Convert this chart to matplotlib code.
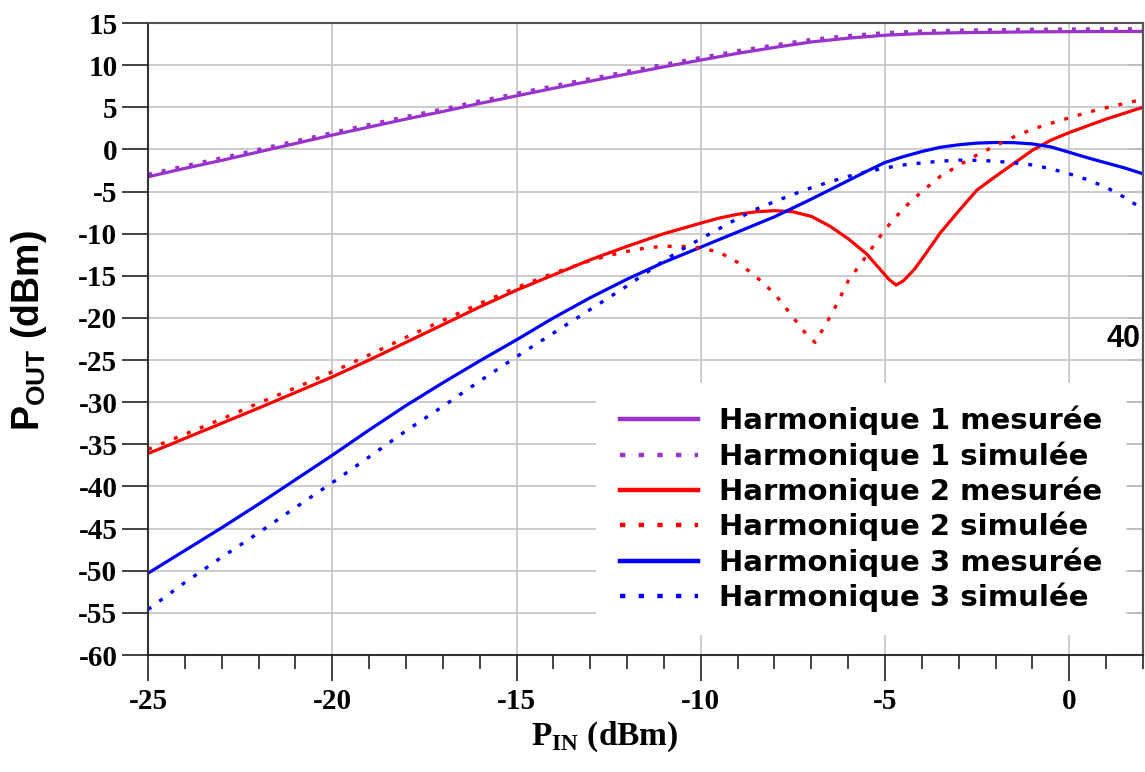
"""Harmoniques 1-3 : puissance de sortie mesuree / simulee en fonction de P_IN."""

import matplotlib

matplotlib.use("Agg")
import matplotlib.pyplot as plt
import numpy as np

# --- data ------------------------------------------------------------------
h1_x = [-25, -24, -23, -22, -21, -20, -19, -18, -17, -16, -15, -14, -13, -12,
        -11, -10, -9, -8, -7, -6, -5, -4, -3, -2, -1, 0, 1, 2]
h1_mes = [-3.25, -2.25, -1.3, -0.3, 0.7, 1.7, 2.65, 3.6, 4.5, 5.45, 6.35, 7.25,
          8.1, 8.95, 9.8, 10.6, 11.4, 12.1, 12.75, 13.2, 13.55, 13.75, 13.85,
          13.9, 13.95, 13.97, 13.99, 14.0]
h1_sim = [-2.95, -1.95, -1.0, 0.0, 1.0, 2.0, 2.95, 3.9, 4.8, 5.75, 6.65, 7.55,
          8.4, 9.25, 10.1, 10.9, 11.7, 12.4, 13.05, 13.5, 13.85, 14.05, 14.15,
          14.2, 14.25, 14.28, 14.3, 14.32]

h2_mes_x = [-25, -24, -23, -22, -21, -20, -19, -18, -17, -16, -15, -14, -13,
            -12, -11, -10, -9.5, -9, -8.5, -8, -7.5, -7, -6.5, -6, -5.5, -5.2,
            -4.9, -4.7, -4.5, -4.2, -3.9, -3.5, -3, -2.5, -2, -1.5, -1, -0.5,
            0, 0.5, 1, 1.5, 2]
h2_mes = [-36.1, -34.3, -32.5, -30.7, -28.85, -27.0, -25.0, -22.9, -20.8,
          -18.7, -16.7, -14.9, -13.1, -11.5, -10.0, -8.75, -8.15, -7.7, -7.4,
          -7.27, -7.4, -7.95, -9.1, -10.6, -12.4, -13.9, -15.4, -16.1, -15.6,
          -14.2, -12.4, -9.9, -7.3, -4.8, -3.2, -1.65, -0.1, 1.1, 2.0, 2.8,
          3.6, 4.3, 5.0]

h2_sim_x = [-25, -24, -23, -22, -21, -20, -19, -18, -17, -16, -15, -14, -13,
            -12.5, -12, -11.5, -11, -10.5, -10, -9.5, -9, -8.5, -8, -7.5,
            -7.2, -6.9, -6.6, -6.3, -6, -5.5, -5, -4.5, -4, -3.5, -3, -2.5,
            -2, -1.5, -1, -0.5, 0, 0.5, 1, 1.5, 2]
h2_sim = [-35.6, -33.8, -32.0, -30.1, -28.3, -26.4, -24.4, -22.3, -20.3,
          -18.3, -16.4, -14.7, -13.2, -12.6, -12.1, -11.7, -11.5, -11.5,
          -11.7, -12.2, -13.4, -15.1, -17.1, -19.9, -21.6, -22.9, -20.7,
          -18.3, -15.6, -12.6, -9.5, -7.0, -5.0, -3.2, -1.9, -0.65, 0.45,
          1.5, 2.4, 3.1, 3.75, 4.4, 4.95, 5.45, 5.95]

h3_mes_x = [-25, -24, -23, -22, -21, -20, -19, -18, -17, -16, -15, -14, -13,
            -12, -11, -10, -9, -8, -7, -6, -5.5, -5, -4.5, -4, -3.5, -3, -2.5,
            -2, -1.5, -1, -0.5, 0, 0.5, 1, 1.5, 2]
h3_mes = [-50.3, -47.6, -44.9, -42.1, -39.2, -36.3, -33.3, -30.4, -27.7,
          -25.1, -22.6, -20.0, -17.6, -15.4, -13.4, -11.6, -9.8, -8.0, -5.9,
          -3.7, -2.6, -1.55, -0.85, -0.25, 0.25, 0.55, 0.75, 0.82, 0.8, 0.65,
          0.3, -0.35, -1.0, -1.6, -2.2, -2.9]

h3_sim_x = [-25, -24, -23, -22, -21, -20, -19, -18, -17, -16, -15, -14, -13,
            -12, -11.5, -11, -10.5, -10, -9.5, -9, -8.5, -8, -7.5, -7, -6.5,
            -6, -5.5, -5, -4.5, -4, -3.5, -3, -2.5, -2, -1.5, -1, -0.5, 0, 0.5,
            1, 1.5, 2]
h3_sim = [-54.6, -51.4, -48.4, -45.5, -42.5, -39.55, -36.5, -33.4, -30.5,
          -27.5, -24.6, -21.8, -19.0, -16.2, -14.7, -13.2, -11.85, -10.6, -9.4,
          -8.2, -7.1, -6.2, -5.35, -4.55, -3.85, -3.2, -2.65, -2.2, -1.85, -1.6,
          -1.4, -1.27, -1.3, -1.4, -1.6, -1.85, -2.3, -2.9, -3.6, -4.5, -5.7,
          -7.1]

series = [
    ("Harmonique 1 mesurée", h1_x, h1_mes, "#9933CC", "-"),
    ("Harmonique 1 simulée", h1_x, h1_sim, "#9933CC", ":"),
    ("Harmonique 2 mesurée", h2_mes_x, h2_mes, "#FF0000", "-"),
    ("Harmonique 2 simulée", h2_sim_x, h2_sim, "#FF0000", ":"),
    ("Harmonique 3 mesurée", h3_mes_x, h3_mes, "#0000FF", "-"),
    ("Harmonique 3 simulée", h3_sim_x, h3_sim, "#0000FF", ":"),
]

x_ticks = [-25, -20, -15, -10, -5, 0]
y_ticks = list(range(-60, 16, 5))

# --- figure ----------------------------------------------------------------
plt.rcParams["mathtext.fontset"] = "custom"
plt.rcParams["mathtext.bf"] = "Liberation Serif:bold"
plt.rcParams["mathtext.sf"] = "Liberation Sans:bold"

W, H = 1145, 772
fig = plt.figure(figsize=(W / 100, H / 100), dpi=100)
ax = fig.add_axes([148 / W, 1 - 655 / H, (1143 - 148) / W, (655 - 23) / H])

ax.set_xlim(-25, 2)
ax.set_ylim(-60, 15)

# grid drawn by hand so the legend can sit between grid and ticks
for xv in x_ticks:
    ax.axvline(xv, color="#c8c8c8", lw=1.3, zorder=0.5)
for yv in y_ticks:
    ax.axhline(yv, color="#c8c8c8", lw=1.3, zorder=0.5)

for label, xs, ys, col, ls in series:
    if ls == "-":
        ax.plot(xs, ys, color=col, lw=2.3, label=label, zorder=2,
                solid_joinstyle="round")
    else:
        ax.plot(xs, ys, color=col, lw=2.4, ls=(0, (1.2, 3.0)), label=label,
                zorder=2.2)

ax.text(1.93, -22.5, "40", ha="right", va="center", fontsize=22,
        fontweight="bold", family="Liberation Sans", zorder=3)

ax.set_xticks(x_ticks)
ax.set_xticks(np.arange(-25, 3, 1), minor=True)
ax.set_yticks(y_ticks)
ax.set_xticklabels([str(v) for v in x_ticks])
ax.set_yticklabels([str(v) for v in y_ticks])
ax.tick_params(axis="x", which="major", direction="out", length=19, width=1.2,
               color="#222222", pad=5, labelsize=21)
ax.tick_params(axis="x", which="minor", direction="out", length=10, width=1.2,
               color="#222222")
ax.tick_params(axis="y", direction="out", length=19, width=1.2,
               color="#222222", pad=3, labelsize=21)
for t in ax.get_xticklabels() + ax.get_yticklabels():
    t.set_family("Liberation Serif")
    t.set_fontweight("bold")

sec = ax.secondary_yaxis("right")
sec.set_yticks(y_ticks)
sec.tick_params(direction="in", length=11, width=1.2, color="#555555",
                labelright=False)
sec.spines["right"].set_color("#444444")
sec.spines["right"].set_linewidth(1.5)

for side in ("left", "bottom"):
    ax.spines[side].set_color("#333333")
    ax.spines[side].set_linewidth(1.5)
for side in ("top", "right"):
    ax.spines[side].set_color("#555555")
    ax.spines[side].set_linewidth(1.5)
ax.set_axisbelow(False)
ax.xaxis.set_zorder(4)
ax.yaxis.set_zorder(4)

leg = ax.legend(loc="center", bbox_to_anchor=(861 / W, 1 - 509 / H),
                bbox_transform=fig.transFigure, frameon=True, fancybox=False,
                prop={"family": "DejaVu Sans", "weight": "bold", "size": 21},
                handlelength=2.7, handletextpad=0.7, labelspacing=0.2,
                borderpad=0.8, borderaxespad=0)
leg.get_frame().set_facecolor("white")
leg.get_frame().set_edgecolor("none")
leg.get_frame().set_alpha(1)
leg.set_zorder(3)
for h in leg.get_lines():
    h.set_linewidth(3.2)

fig.text(605 / W, 1 - 737 / H, r"P$_{\mathbf{IN}}$ (dBm)", ha="center",
         va="center", fontsize=24, fontweight="bold", family="Liberation Serif")
fig.text(29 / W, 1 - 331 / H, r"P$_{\mathsf{OUT}}$ (dBm)", ha="center",
         va="center", rotation=90, fontsize=27, fontweight="bold",
         family="Liberation Sans")

fig.savefig("out.png", dpi=100)
